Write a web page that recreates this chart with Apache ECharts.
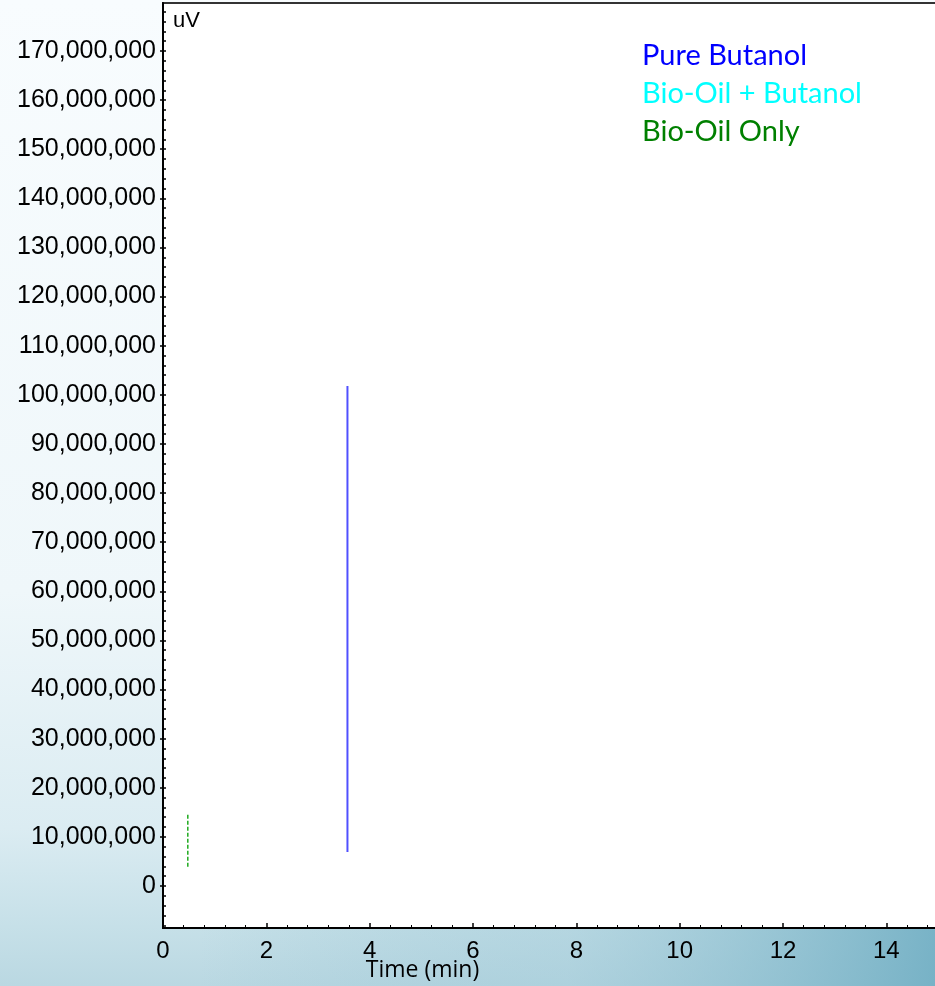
<!DOCTYPE html>
<html>
<head>
<meta charset="utf-8">
<script src="https://cdn.jsdelivr.net/npm/echarts@6/dist/echarts.min.js"></script>
<style>
  html, body { margin: 0; padding: 0; }
  #chart { width: 935px; height: 986px; }
</style>
</head>
<body>
<div id="chart"></div>
<script>
// Chromatogram traces: [time (min), signal (uV)]
const seriesNames = ['Pure Butanol', 'Bio-Oil + Butanol', 'Bio-Oil Only'];
const seriesColors = ['#0000ff', '#00ffff', '#008000'];
const pureButanol = [[3.57, 6.9e6], [3.57, 101.8e6]];
const bioOilButanol = [];
const bioOilOnly = [[0.48, 3.9e6], [0.48, 14.7e6]];

// Axis ranges and tick values
const xMin = 0, xMax = 15, xInterval = 2;
const yMin = -8.55e6, yMax = 179.77e6;
const yMajorTicks = [];
for (let v = 0; v <= 170e6; v += 10e6) yMajorTicks.push(v);
const yMinorTicks = [];
for (let v = -8e6; v <= 178e6; v += 2e6) yMinorTicks.push(v);

const chart = echarts.init(document.getElementById('chart'));

const fmt = v => Math.round(v).toLocaleString('en-US');

chart.setOption({
  animation: false,
  backgroundColor: new echarts.graphic.LinearGradient(0, 0, 0, 1, [
    { offset: 0, color: '#f8fcfe' },
    { offset: 0.6, color: '#eff7fa' },
    { offset: 0.84, color: '#dbecf2' },
    { offset: 0.94, color: '#c6e0e8' },
    { offset: 1, color: '#bad8e2' }
  ]),
  graphic: [
    {
      type: 'rect', z: -1, silent: true,
      shape: { x: 200, y: 929, width: 735, height: 57 },
      style: {
        fill: new echarts.graphic.LinearGradient(0, 0, 1, 0.3, [
          { offset: 0, color: 'rgba(120,178,198,0)' },
          { offset: 0.5, color: 'rgba(150,196,212,0.35)' },
          { offset: 1, color: 'rgba(112,174,195,0.9)' }
        ])
      }
    },
    {
      type: 'text', left: 173, top: 10, z: 10,
      style: { text: 'uV', fontFamily: 'Liberation Sans', fontSize: 22, fill: '#000' }
    }
  ],
  grid: {
    left: 163, top: 3, right: -3, bottom: 58,
    outerBoundsMode: 'none',
    show: true, backgroundColor: '#ffffff', borderColor: '#333333', borderWidth: 2
  },
  legend: {
    orient: 'vertical', left: 632, top: 32,
    icon: 'none', itemWidth: 0, itemHeight: 10, itemGap: 0,
    selectedMode: false,
    textStyle: { fontFamily: 'Lato', fontSize: 29, lineHeight: 38, height: 38 },
    data: seriesNames.map((n, i) => ({ name: n, textStyle: { color: seriesColors[i] } }))
  },
  xAxis: {
    type: 'value', min: xMin, max: xMax, interval: xInterval,
    name: 'Time (min)', nameLocation: 'middle', nameGap: 31, nameMoveOverlap: false,
    nameTextStyle: { fontFamily: 'Open Sans', fontSize: 23, color: '#000', padding: [0, 256, 0, 0] },
    axisLine: { show: true, onZero: false, lineStyle: { color: '#000', width: 2 } },
    axisTick: { show: true, inside: true, length: 5, lineStyle: { color: '#000', width: 1.5 } },
    minorTick: { show: true, splitNumber: 5, length: 3, lineStyle: { color: '#000', width: 1 } },
    axisLabel: { fontFamily: 'Liberation Sans', fontSize: 24, color: '#000', margin: 11, showMaxLabel: false },
    splitLine: { show: false }
  },
  yAxis: [
    {
      type: 'value', min: yMin, max: yMax,
      axisLine: { show: true, onZero: false, lineStyle: { color: '#000', width: 2 } },
      axisTick: { show: true, inside: false, length: 3, customValues: yMajorTicks, lineStyle: { color: '#000', width: 1.5 } },
      axisLabel: { fontFamily: 'Liberation Sans', fontSize: 25, color: '#000', margin: 7, customValues: yMajorTicks, formatter: fmt },
      splitLine: { show: false }
    },
    {
      type: 'value', min: yMin, max: yMax, position: 'left',
      axisLine: { show: false },
      axisTick: { show: true, inside: true, length: 3, customValues: yMinorTicks, lineStyle: { color: '#000', width: 1.5 } },
      axisLabel: { show: false },
      splitLine: { show: false }
    }
  ],
  series: [
    {
      name: seriesNames[0], type: 'line', data: pureButanol, showSymbol: false,
      color: seriesColors[0], lineStyle: { color: '#5050ff', width: 2 }
    },
    {
      name: seriesNames[1], type: 'line', data: bioOilButanol, showSymbol: false,
      color: seriesColors[1], lineStyle: { color: seriesColors[1], width: 2 }
    },
    {
      name: seriesNames[2], type: 'line', data: bioOilOnly, showSymbol: false,
      color: seriesColors[2], lineStyle: { color: '#1faa1f', width: 1.5, type: [4, 2] }
    }
  ]
});
</script>
</body>
</html>
